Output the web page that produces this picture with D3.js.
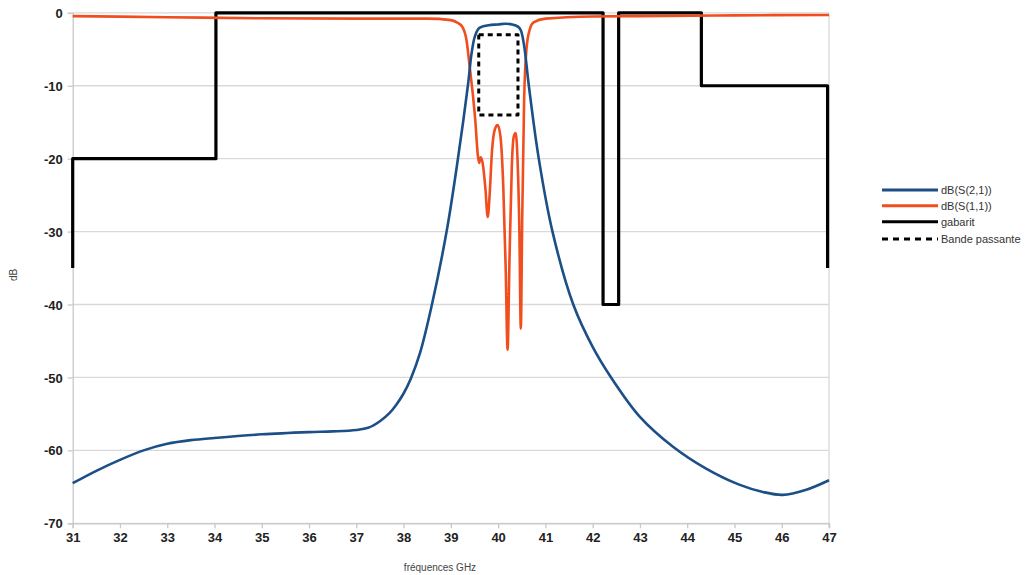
<!DOCTYPE html>
<html><head><meta charset="utf-8">
<script src="https://cdn.jsdelivr.net/npm/d3@7"></script>
<style>body{margin:0;background:#fff;}svg{display:block;font-family:"Liberation Sans",Arial,sans-serif;}</style>
</head><body>
<svg id="c" width="1027" height="575"></svg>
<script>
// ---- data ----
const s21Freq = [31,31.5,32,32.5,33,33.5,34,35,36,36.5,37,37.25,37.5,37.7,37.85,38.0,38.15,38.35,38.6,38.91,39.15,39.36,39.44,39.51,39.6,39.8,40.0,40.14,40.3,40.42,40.48,40.55,40.65,40.86,41.15,41.59,42.0,42.39,43.0,43.7,44.4,45.1,45.6,46.02,46.52,47];
const s21dB   = [-64.5,-62.8,-61.3,-60.0,-59.1,-58.6,-58.3,-57.8,-57.5,-57.4,-57.2,-56.9,-56.0,-54.9,-53.7,-52.2,-50.2,-46.6,-40,-30,-20,-10,-5.5,-3.2,-2.1,-1.7,-1.6,-1.5,-1.6,-1.9,-2.4,-4.5,-10,-20,-30,-40,-45.8,-50,-55.4,-59.5,-62.5,-64.7,-65.7,-66.1,-65.4,-64.1];
const s11Freq = [31,33,35,37,38.5,39.0,39.15,39.25,39.33,39.40,39.47,39.52,39.57,39.60,39.63,39.67,39.73,39.78,39.82,39.87,39.93,39.99,40.05,40.11,40.16,40.20,40.24,40.29,40.33,40.37,40.41,40.45,40.48,40.51,40.55,40.60,40.66,40.75,41.0,42,43,45,47];
const s11dB   = [-0.45,-0.6,-0.75,-0.8,-0.8,-1.0,-1.4,-2.0,-3.7,-7.5,-11.5,-15,-19.5,-20.6,-19.8,-20.5,-24,-28,-25,-19,-16,-15.4,-17,-24,-35,-46.2,-34,-21,-17,-16.5,-20,-30,-43.3,-28,-12,-5,-2.5,-1.3,-0.8,-0.5,-0.45,-0.35,-0.3];
const gabFreq = [31,31,34.03,34.03,42.22,42.22,42.55,42.55,44.3,44.3,46.97,46.97];
const gabdB   = [-35,-20,-20,0,0,-40,-40,0,0,-10,-10,-35];
const bpFreq  = [39.59,40.42,40.42,39.59,39.59];
const bpdB    = [-3,-3,-14,-14,-3];
const xTicks  = [31,32,33,34,35,36,37,38,39,40,41,42,43,44,45,46,47];
const yTicks  = [0,-10,-20,-30,-40,-50,-60,-70];
const seriesNames = ["dB(S(2,1))","dB(S(1,1))","gabarit","Bande passante"];
const seriesColors = ["#1b4f86","#f04e1e","#000000","#000000"];

// ---- chart ----
const svg = d3.select("#c");
const L = 72.7, R = 829, T = 12.8, B = 523.3;
const x = d3.scaleLinear().domain([31,47]).range([L,R]);
const y = d3.scaleLinear().domain([-70,0]).range([B,T]);

// gridlines
svg.append("g").selectAll("line").data(yTicks).join("line")
  .attr("x1",L).attr("x2",R).attr("y1",d=>y(d)).attr("y2",d=>y(d))
  .attr("stroke","#d9d9d9").attr("stroke-width",1.3);
// right border
svg.append("line").attr("x1",R).attr("x2",R).attr("y1",T).attr("y2",B+4)
  .attr("stroke","#d9d9d9").attr("stroke-width",1.3);

// axes
const fmt = d => String(d);
const yAxis = svg.append("g").attr("transform",`translate(${L},0)`)
  .call(d3.axisLeft(y).tickValues(yTicks).tickSize(5).tickPadding(5).tickFormat(fmt));
const xAxis = svg.append("g").attr("transform",`translate(0,${B})`)
  .call(d3.axisBottom(x).tickValues(xTicks).tickSize(5).tickPadding(4).tickFormat(fmt));
[yAxis,xAxis].forEach(a=>{
  a.select(".domain").attr("stroke","#c8c8c8").attr("stroke-width",1.3);
  a.selectAll(".tick line").attr("stroke","#c8c8c8").attr("stroke-width",1.3);
  a.selectAll("text").attr("fill","#222").attr("font-size","13px").attr("font-weight","bold")
    .attr("font-family","Liberation Sans, Arial, sans-serif");
});
yAxis.selectAll("text").attr("dy","0.35em");

// axis titles
svg.append("text").attr("transform","translate(17,275) rotate(-90)")
  .attr("text-anchor","middle").attr("font-size","10px").attr("fill","#444").text("dB");
svg.append("text").attr("x",440).attr("y",571)
  .attr("text-anchor","middle").attr("font-size","10px").attr("fill","#444").text("fréquences GHz");

// series
const lineS = d3.line().x(d=>x(d[0])).y(d=>y(d[1])).curve(d3.curveCatmullRom.alpha(0.5));
const lineC = d3.line().x(d=>x(d[0])).y(d=>y(d[1])).curve(d3.curveMonotoneX);
const lineL = d3.line().x(d=>x(d[0])).y(d=>y(d[1]));
const zip = (a,b)=>a.map((v,i)=>[v,b[i]]);

svg.append("path").datum(zip(gabFreq,gabdB)).attr("d",lineL)
  .attr("fill","none").attr("stroke",seriesColors[2]).attr("stroke-width",3.2).attr("stroke-linejoin","round");
svg.append("path").datum(zip(s11Freq,s11dB)).attr("d",lineC)
  .attr("fill","none").attr("stroke",seriesColors[1]).attr("stroke-width",2.6).attr("stroke-linejoin","round");
svg.append("path").datum(zip(s21Freq,s21dB)).attr("d",lineS)
  .attr("fill","none").attr("stroke",seriesColors[0]).attr("stroke-width",2.6).attr("stroke-linejoin","round");
svg.append("path").datum(zip(bpFreq,bpdB)).attr("d",lineL)
  .attr("fill","none").attr("stroke",seriesColors[3]).attr("stroke-width",3).attr("stroke-dasharray","5,4")
  .attr("stroke-linejoin","round");

// legend
const lg = svg.append("g");
const ly = [190,205.7,221.7,239];
seriesNames.forEach((n,i)=>{
  const l = lg.append("line").attr("x1",882).attr("x2",938).attr("y1",ly[i]).attr("y2",ly[i])
    .attr("stroke",seriesColors[i]).attr("stroke-width",3);
  if(i===3) l.attr("stroke-dasharray","6,5");
  lg.append("text").attr("x",941).attr("y",ly[i]).attr("dy","0.35em")
    .attr("font-size","11px").attr("fill","#333").text(n);
});
</script>
</body></html>
